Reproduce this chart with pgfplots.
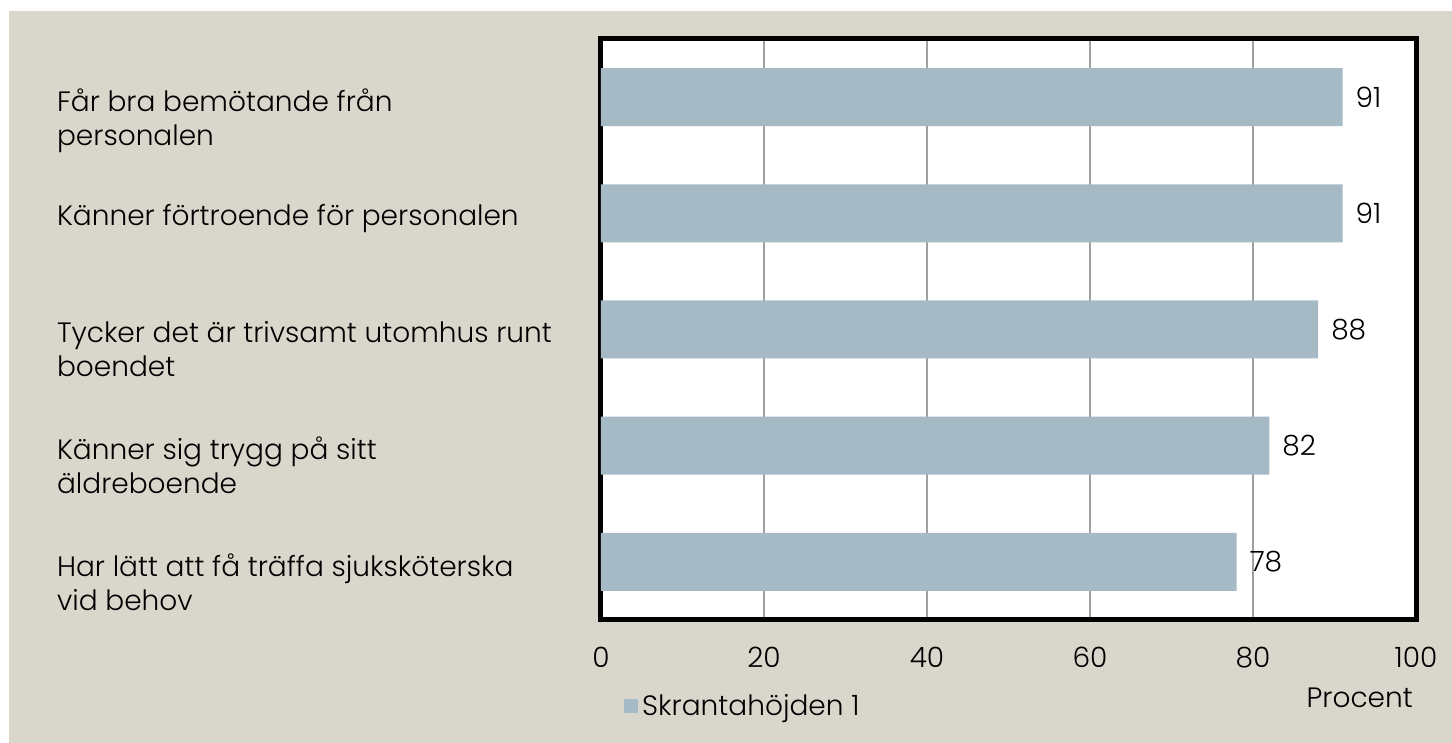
\documentclass[border=0pt]{standalone}
\usepackage{fontspec}
\setmainfont{Poppins Light}
\usepackage{pgfplots}
\pgfplotsset{compat=1.18}
\definecolor{bgc}{RGB}{217,215,203}
\definecolor{barc}{RGB}{166,186,197}
\definecolor{gridc}{RGB}{160,160,160}
\newcommand{\lf}{\fontsize{14}{17}\selectfont}
\begin{document}
\begin{tikzpicture}
\useasboundingbox (0,0) rectangle (726pt,371.5pt);
\fill[white] (0,0) rectangle (726pt,371.5pt);
\fill[bgc] (4.5pt,0) rectangle (726pt,366pt);
\begin{axis}[
  at={(300.5pt,61.5pt)}, anchor=south west,
  width=407.5pt, height=290.5pt, scale only axis,
  xbar, bar width=29pt,
  xmin=0, xmax=100, ymin=-0.5, ymax=4.5,
  xtick={0,20,...,100}, ytick={0,1,2,3,4},
  yticklabels={{Har lätt att få träffa sjuksköterska\\vid behov},
               {Känner sig trygg på sitt\\äldreboende},
               {Tycker det är trivsamt utomhus runt\\boendet},
               {Känner förtroende för personalen},
               {Får bra bemötande från\\personalen}},
  xmajorgrids, major grid style={gridc, line width=1pt},
  axis line style={black, line width=2.5pt},
  major tick length=0pt,
  axis background/.style={fill=white},
  tick label style={font=\lf},
  /pgf/number format/assume math mode=true,
  xticklabel style={yshift=-10pt},
  yticklabel style={anchor=north west, align=left, xshift=-275.5pt, yshift=7.8pt},
  nodes near coords, nodes near coords style={font=\lf, anchor=west, xshift=3pt},
  point meta=x,
  xlabel={Procent},
  every axis x label/.style={at={(axis description cs:0.931,0)}, anchor=center, yshift=-39pt, font=\lf},
  legend style={at={(axis description cs:0.028,0)}, anchor=west, yshift=-43pt, draw=none, fill=none, inner sep=0pt, font=\lf},
  legend image code/.code={\fill[barc] (0pt,-3.5pt) rectangle (7pt,3.5pt);},
]
\addplot[fill=barc, draw=none] coordinates {(78,0) (82,1) (88,2) (91,3) (91,4)};
\legend{Skrantahöjden 1}
\end{axis}
\end{tikzpicture}
\end{document}
